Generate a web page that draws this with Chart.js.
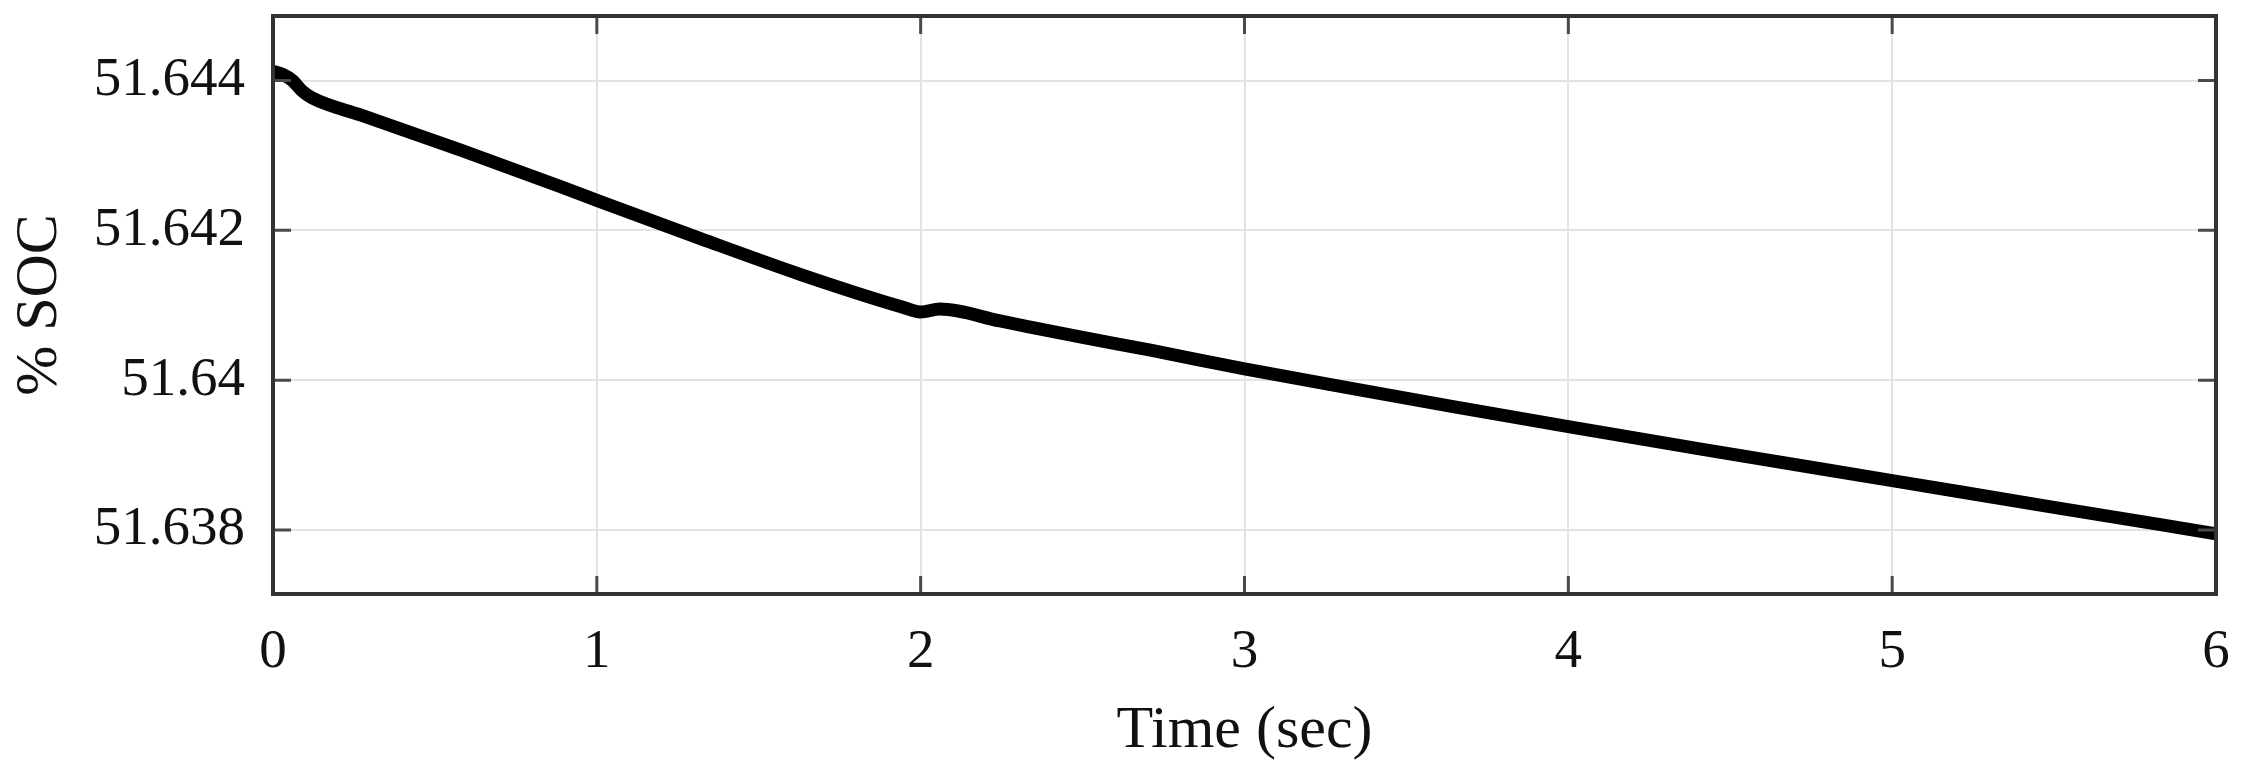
<!DOCTYPE html>
<html>
<head>
<meta charset="utf-8">
<script src="https://cdn.jsdelivr.net/npm/chart.js@4"></script>
<style>
    html, body { margin: 0; padding: 0; background: #fff; }
    canvas { display: block; }
</style>
</head>
<body>
<canvas id="socChart" width="2245" height="771"></canvas>
<script>
// 读出的数据（秒, %SOC）
const timeSec = [0, 0.03, 0.06, 0.09, 0.12, 0.27, 0.58, 0.89, 1.0, 1.32, 1.63, 1.94, 2.0, 2.06, 2.245, 2.5, 2.71, 3.0, 3.33, 3.64, 4.0, 4.41, 5.0, 5.49, 6.0];
const socValues = [51.64412, 51.64408, 51.64400, 51.64386, 51.64377, 51.64354, 51.64307, 51.64258, 51.64240, 51.64189, 51.64141, 51.64098, 51.64091, 51.64095, 51.64079, 51.64057, 51.64040, 51.64015, 51.63989, 51.63965, 51.63938, 51.63908, 51.63866, 51.63831, 51.63795];

const xTicks = [0, 1, 2, 3, 4, 5, 6];
const yTicks = [51.638, 51.640, 51.642, 51.644];
const yTickLabels = ['51.638', '51.64', '51.642', '51.644'];

const fontFamily = '"Liberation Serif", "Times New Roman", serif';

// 边框 + 向内的小刻度（MATLAB 风格）
const framePlugin = {
    id: 'frame',
    afterDraw(chart) {
        const { ctx, chartArea: a, scales } = chart;
        ctx.save();
        ctx.strokeStyle = '#4a4a4a';
        ctx.lineWidth = 3;
        const tl = 18;
        ctx.beginPath();
        scales.y.ticks.forEach(t => {
            const py = scales.y.getPixelForValue(t.value);
            ctx.moveTo(a.left, py); ctx.lineTo(a.left + tl, py);
            ctx.moveTo(a.right, py); ctx.lineTo(a.right - tl, py);
        });
        scales.x.ticks.forEach(t => {
            const px = scales.x.getPixelForValue(t.value);
            ctx.moveTo(px, a.bottom); ctx.lineTo(px, a.bottom - tl);
            ctx.moveTo(px, a.top); ctx.lineTo(px, a.top + tl);
        });
        ctx.stroke();
        ctx.strokeStyle = '#333';
        ctx.lineWidth = 4;
        ctx.strokeRect(a.left, a.top, a.right - a.left, a.bottom - a.top);
        ctx.restore();
    }
};

new Chart(document.getElementById('socChart'), {
    type: 'line',
    data: {
        datasets: [{
            data: timeSec.map((t, i) => ({ x: t, y: socValues[i] })),
            borderColor: '#000',
            borderWidth: 13,
            borderCapStyle: 'round',
            borderJoinStyle: 'round',
            pointRadius: 0,
            cubicInterpolationMode: 'monotone',
            fill: false
        }]
    },
    options: {
        responsive: false,
        animation: false,
        layout: { padding: { left: 0, right: 29, top: 16, bottom: 0 } },
        plugins: { legend: { display: false }, tooltip: { enabled: false } },
        scales: {
            x: {
                type: 'linear',
                min: 0,
                max: 6,
                afterBuildTicks: s => { s.ticks = xTicks.map(v => ({ value: v })); },
                afterFit: s => { s.height = 177; s.paddingLeft = 0; s.paddingRight = 0; },
                grid: { color: '#e3e3e3', lineWidth: 2, drawTicks: false },
                border: { display: false },
                ticks: {
                    padding: 26,
                    color: '#111',
                    font: { family: fontFamily, size: 55 },
                    maxRotation: 0,
                    callback: v => String(v)
                },
                title: {
                    display: true,
                    text: 'Time (sec)',
                    color: '#111',
                    font: { family: fontFamily, size: 60 },
                    padding: { top: 0, bottom: 4 }
                }
            },
            y: {
                type: 'linear',
                min: 51.637146,
                max: 51.644861,
                afterBuildTicks: s => { s.ticks = yTicks.map(v => ({ value: v })); },
                afterFit: s => { s.width = 273; s.paddingTop = 0; s.paddingBottom = 0; },
                grid: { color: '#e3e3e3', lineWidth: 2, drawTicks: false },
                border: { display: false },
                ticks: {
                    padding: 28,
                    color: '#111',
                    font: { family: fontFamily, size: 55 },
                    callback: v => {
                        const i = yTicks.findIndex(t => Math.abs(t - v) < 1e-7);
                        return i >= 0 ? yTickLabels[i] : '';
                    }
                },
                title: {
                    display: true,
                    text: '% SOC',
                    color: '#111',
                    font: { family: fontFamily, size: 60 },
                    padding: { top: 4, bottom: 0 }
                }
            }
        }
    },
    plugins: [framePlugin]
});
</script>
</body>
</html>
